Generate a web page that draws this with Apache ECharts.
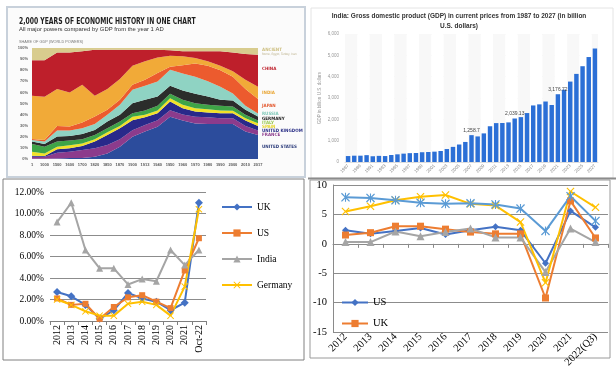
<!DOCTYPE html>
<html><head><meta charset="utf-8">
<script src="https://cdn.jsdelivr.net/npm/echarts@6/dist/echarts.min.js"></script>
<style>html,body{margin:0;padding:0;background:#fff}#c{width:616px;height:370px}</style>
</head><body><div id="c"></div>
<script>
// ---------- Panel A: 2,000 years of economic history (share of GDP, %) ----------
const eraLabels = ['1','1000','1500','1600','1700','1820','1850','1870','1900','1913','1940','1950','1960','1970','1980','1990','2000','2010','2017'];
const shareUS      = [0.3,0.3,0.5,0.8,1,2,5,11,20,24.7,29,38,34.6,32,31.6,31.6,31.6,24.7,21.7];
const shareFrance  = [1.7,1.7,5.2,5.8,7,7.6,7.6,6.8,6,6,6,6,5.4,6,6,5.1,5.1,5.1,3.9];
const shareUK      = [1,0.7,3,3,3.7,6.1,9.1,9.9,9,6.9,6.3,7.8,5.8,4.8,4.3,4.6,4.6,4.8,4.2];
const shareSpain   = [3.6,2.3,2.3,2.7,2.3,2.1,2.3,2.1,3,2.2,2.4,3,3,3,3,2.4,2.1,2.1,2.4];
const shareItaly   = [6.9,6,4.7,4.3,3.8,3.9,3.7,3.9,3.3,3.9,4.2,3.9,4.5,4.5,3.9,4.2,3.9,3.1,2.4];
const shareGermany = [2.2,2.5,4.5,4.2,4.8,4.5,6,6.1,9,9.6,8.4,7.3,8.4,8.4,7.5,5.4,5.4,4.5,3.7];
const shareRussia  = [1.5,2.2,5.4,4.8,5.1,5.4,6.1,9,12,12.7,13.6,14.4,15.3,15.3,13.7,11.7,6.3,3.7,2.7];
const shareJapan   = [0.8,1.5,4.2,3.6,5.1,6.7,4.5,4.5,4.6,5.4,7.5,2.6,7.5,12,14,15,15,15,13];
const shareIndia   = [39,38.8,33.2,30.8,34.2,18.7,18.7,18.7,17.1,16.6,14.1,10,8,5,4,4,5,8.5,11];
const shareChina   = [32,33,33,36,30,41.5,35.5,26.5,14.5,10.5,7,5,4.5,6,9,13,17,23,29];
const shareAncient = [11,11,4,4,3,1.5,1.5,1.5,1.5,1.5,1.5,2,3,3,3,3,4,5.5,6];

// ---------- Panel B: India GDP, billion US$ ----------
const gdpYears = ['1987','1988','1989','1990','1991','1992','1993','1994','1995','1996','1997','1998','1999','2000','2001','2002','2003','2004','2005','2006','2007','2008','2009','2010','2011','2012','2013','2014','2015','2016','2017','2018','2019','2020','2021','2022','2023','2024','2025','2026','2027'];
const gdpIndia = [279,296,296,321,270,288,279,327,360,392,415,421,458,468,485,515,608,709,820,940,1258.7,1199,1341,1676,1823,1828,1857,2039.13,2103,2294,2651,2702,2835,2671,3176.72,3389,3770,4130,4490,4920,5320];
const gdpLabelledYears = ['2007','2014','2021'];

// ---------- Panel C: inflation (%) ----------
const inflYears   = ['2012','2013','2014','2015','2016','2017','2018','2019','2020','2021','Oct-22'];
const inflUK      = [2.7,2.3,1.5,0.2,1.0,2.6,2.1,1.8,1.0,1.7,11.0];
const inflUS      = [2.1,1.5,1.6,0.2,1.3,2.2,2.4,1.8,1.2,4.7,7.7];
const inflIndia   = [9.2,11.0,6.6,4.9,4.9,3.4,3.9,3.7,6.6,5.2,6.6];
const inflGermany = [2.0,1.5,0.9,0.5,0.5,1.6,1.8,1.5,0.5,3.2,10.4];

// ---------- Panel D: GDP growth (%) ----------
const growthYears   = ['2012','2013','2014','2015','2016','2017','2018','2019','2020','2021','2022(Q3)'];
const growthUS      = [2.3,1.7,2.2,2.7,1.6,2.3,2.9,2.3,-3.3,5.6,2.8];
const growthUK      = [1.5,1.9,3.0,3.0,2.5,2.0,1.7,1.7,-9.2,7.3,1.0];
const growthGermany = [0.3,0.3,2.1,1.3,2.0,2.6,1.1,1.1,-4.8,2.6,0.3];
const growthIndia   = [5.5,6.4,7.4,8.0,8.3,6.8,6.5,3.7,-6.6,8.9,6.2];
const growthChina   = [7.9,7.8,7.4,7.0,6.8,6.9,6.7,6.0,2.2,8.1,3.9];

const SERIF = "'Liberation Serif','Times New Roman',serif";
const NARROW = "'Liberation Sans Narrow','DejaVu Sans Condensed',sans-serif";
const SANS = "'Liberation Sans',Arial,sans-serif";
const X_PATH = 'path://M0,1 L1,0 L5,4 L9,0 L10,1 L6,5 L10,9 L9,10 L5,6 L1,10 L0,9 L4,5 Z';
const STAR_PATH = 'path://M0,1 L1,0 L5,4 L9,0 L10,1 L6,5 L10,9 L9,10 L5,6 L1,10 L0,9 L4,5 Z M4.4,0 L5.6,0 L5.6,10 L4.4,10 Z';

const chart = echarts.init(document.getElementById('c'));

const areaDefs = [
  ['UNITED STATES', shareUS, '#2c4c9c'],
  ['FRANCE', shareFrance, '#8c3b8c'],
  ['UNITED KINGDOM', shareUK, '#29298a'],
  ['SPAIN', shareSpain, '#f2e128'],
  ['ITALY', shareItaly, '#3ea447'],
  ['GERMANY', shareGermany, '#2b2d2b'],
  ['RUSSIA', shareRussia, '#8fd3c3'],
  ['JAPAN', shareJapan, '#ec5b2e'],
  ['INDIA', shareIndia, '#f1aa38'],
  ['CHINA', shareChina, '#be1f2b'],
  ['ANCIENT', shareAncient, '#d8cc8e']
];
const areaSeries = areaDefs.map(([name, data, color]) => ({
  name, type:'line', stack:'share', xAxisIndex:0, yAxisIndex:0, data,
  symbol:'none', lineStyle:{width:0}, areaStyle:{color, opacity:1}, itemStyle:{color}, silent:true
}));

const nf = new Intl.NumberFormat('en-US', {maximumFractionDigits:2});
const barData = gdpIndia.map((v, i) => gdpLabelledYears.includes(gdpYears[i]) ? {value:v, label:{show:true}} : v);

function lineSeries(name, data, color, symbol, size, xi, yi) {
  return {name, type:'line', xAxisIndex:xi, yAxisIndex:yi, data, symbol, symbolSize:size,
    lineStyle:{color, width:2}, itemStyle:{color}, z:3};
}

// right-hand labels of panel A
const areaLabels = [
  ['ANCIENT', 49.5, '#cdbf80', 4.5],
  ['Rome, Egypt, Turkey, Iran', 54, '#b9ae86', 3],
  ['CHINA', 69, '#be1f2b', 4.5],
  ['INDIA', 93, '#e9a634', 4.5],
  ['JAPAN', 106, '#e3582e', 4.5],
  ['RUSSIA', 114, '#7fc8b8', 4.5],
  ['GERMANY', 118.5, '#222222', 4.5],
  ['ITALY', 122.5, '#9ac84e', 4.5],
  ['SPAIN', 126.5, '#e6d52a', 4.5],
  ['UNITED KINGDOM', 130.5, '#2a2f86', 4.5],
  ['FRANCE', 134.5, '#8c3b8c', 4.5],
  ['UNITED STATES', 147, '#2b3b7a', 4.5]
];

const graphics = [
  {type:'rect', shape:{x:7, y:7, width:298, height:170}, style:{fill:'#fbfbfb', stroke:'#c8d1db', lineWidth:2}, z:-10, silent:true},
  {type:'rect', shape:{x:311, y:8, width:302, height:170}, style:{fill:'#ffffff', stroke:'#e4e4e4', lineWidth:1}, z:-10, silent:true},
  {type:'line', shape:{x1:308, y1:178.5, x2:616, y2:178.5}, style:{stroke:'#8c8c8c', lineWidth:2}, z:-9, silent:true},
  {type:'rect', shape:{x:3, y:179, width:301, height:181}, style:{fill:'none', stroke:'#808080', lineWidth:1}, z:-5, silent:true},
  {type:'rect', shape:{x:310, y:180, width:300, height:178}, style:{fill:'none', stroke:'#9a9a9a', lineWidth:1}, z:-5, silent:true},
  {type:'text', x:19, y:21.5, scaleX:0.75, style:{text:'2,000 YEARS OF ECONOMIC HISTORY IN ONE CHART', font:'bold 9px '+NARROW, fill:'#1e1e1e', verticalAlign:'middle'}},
  {type:'text', x:19, y:29, style:{text:'All major powers compared by GDP from the year 1 AD', font:'5.9px '+SANS, fill:'#333333', verticalAlign:'middle'}},
  {type:'text', x:19, y:41.5, style:{text:'SHARE OF GDP (WORLD POWERS)', font:'3.8px '+SANS, fill:'#777777', verticalAlign:'middle'}},
  {type:'text', x:459, y:16.5, style:{text:'India: Gross domestic product (GDP) in current prices from 1987 to 2027 (in billion', font:'bold 6.5px '+SANS, fill:'#333333', align:'center', verticalAlign:'middle'}},
  {type:'text', x:459, y:26, style:{text:'U.S. dollars)', font:'bold 6.5px '+SANS, fill:'#333333', align:'center', verticalAlign:'middle'}}
].concat(areaLabels.map(([t, y, c, s]) => ({type:'text', x:262, y, style:{text:t, font:(s > 3 ? 'bold ' : '') + s + 'px ' + NARROW, fill:c, verticalAlign:'middle'}})));

const option = {
  animation:false,
  backgroundColor:'#ffffff',
  textStyle:{fontFamily:SANS},
  grid:[
    {left:32, top:48, width:226, height:111},
    {left:345, top:34, width:253, height:128},
    {left:50, top:192, width:156, height:129},
    {left:333, top:185, width:275, height:169}
  ],
  xAxis:[
    {type:'category', gridIndex:0, data:eraLabels, boundaryGap:false,
     axisLine:{show:false}, axisTick:{show:false},
     axisLabel:{fontSize:4, color:'#555', margin:4, interval:0, fontWeight:'bold'}},
    {type:'category', gridIndex:1, data:gdpYears,
     axisLine:{show:true, lineStyle:{color:'#dddddd'}}, axisTick:{show:false},
     axisLabel:{fontSize:4.5, color:'#8a8a8a', rotate:45, interval:1, margin:3},
     splitArea:{show:true, interval:1, areaStyle:{color:['#f8f8f8','#ffffff']}}},
    {type:'category', gridIndex:2, data:inflYears,
     axisLine:{lineStyle:{color:'#7f7f7f'}}, axisTick:{show:true, length:4, lineStyle:{color:'#7f7f7f'}},
     axisLabel:{fontFamily:SERIF, fontSize:10, color:'#000', rotate:90, margin:4, interval:0}},
    {type:'category', gridIndex:3, data:growthYears,
     axisLine:{onZero:true, lineStyle:{color:'#8a8a8a'}}, axisTick:{show:true, length:4, lineStyle:{color:'#8a8a8a'}},
     axisLabel:{fontFamily:SERIF, fontSize:10.5, color:'#000', rotate:45, margin:3, interval:0}}
  ],
  yAxis:[
    {type:'value', gridIndex:0, min:0, max:100, interval:10,
     axisLine:{show:false}, axisTick:{show:false}, splitLine:{show:false},
     axisLabel:{fontSize:4, color:'#666', margin:4, formatter:'{value}%', fontWeight:'bold'}},
    {type:'value', gridIndex:1, min:0, max:6000, interval:1000,
     name:'GDP in billion U.S. dollars', nameLocation:'middle', nameGap:23,
     nameTextStyle:{fontSize:4.5, color:'#9a9a9a'},
     axisLine:{show:false}, axisTick:{show:false},
     splitLine:{lineStyle:{color:'#e8e8e8', width:0.6}},
     axisLabel:{fontSize:4.5, color:'#9a9a9a', margin:6, formatter:v => nf.format(v)}},
    {type:'value', gridIndex:2, min:0, max:12, interval:2,
     axisLine:{show:false}, axisTick:{show:false},
     splitLine:{lineStyle:{color:'#8c8c8c', width:1}},
     axisLabel:{fontFamily:SERIF, fontSize:9.5, color:'#000', margin:6, formatter:v => v.toFixed(2) + '%'}},
    {type:'value', gridIndex:3, min:-15, max:10, interval:5,
     axisLine:{show:true, lineStyle:{color:'#8a8a8a'}}, axisTick:{show:false},
     splitLine:{lineStyle:{color:'#8c8c8c', width:1}},
     axisLabel:{fontFamily:SERIF, fontSize:10.5, color:'#000', margin:6}}
  ],
  legend:[
    {data:['UK','US','India','Germany'], orient:'vertical', left:216, top:197, itemWidth:30, itemHeight:9, itemGap:16,
     textStyle:{fontFamily:SERIF, fontSize:9.5, color:'#000'}},
    {data:['US growth','UK growth'], orient:'vertical', left:336, top:292, itemWidth:26, itemHeight:9, itemGap:10,
     formatter:n => n.split(' ')[0],
     textStyle:{fontFamily:SERIF, fontSize:10.5, color:'#000'}}
  ],
  graphic:{elements:graphics},
  series: areaSeries.concat([
    {name:'India GDP', type:'bar', xAxisIndex:1, yAxisIndex:1, data:barData, barCategoryGap:'28%',
     itemStyle:{color:'#2b6fd6'},
     label:{show:false, position:'top', distance:2, fontSize:5, color:'#444', formatter:p => nf.format(p.value)}},
    lineSeries('UK', inflUK, '#4472C4', 'diamond', 8, 2, 2),
    lineSeries('US', inflUS, '#ED7D31', 'rect', 6, 2, 2),
    lineSeries('India', inflIndia, '#A5A5A5', 'triangle', 7, 2, 2),
    lineSeries('Germany', inflGermany, '#FFC000', X_PATH, 7, 2, 2),
    lineSeries('US growth', growthUS, '#4472C4', 'diamond', 7, 3, 3),
    lineSeries('UK growth', growthUK, '#ED7D31', 'rect', 7, 3, 3),
    lineSeries('Germany growth', growthGermany, '#A5A5A5', 'triangle', 8, 3, 3),
    lineSeries('India growth', growthIndia, '#FFC000', X_PATH, 8, 3, 3),
    lineSeries('China growth', growthChina, '#5B9BD5', STAR_PATH, 9, 3, 3)
  ])
};
chart.setOption(option);
</script>
</body></html>
